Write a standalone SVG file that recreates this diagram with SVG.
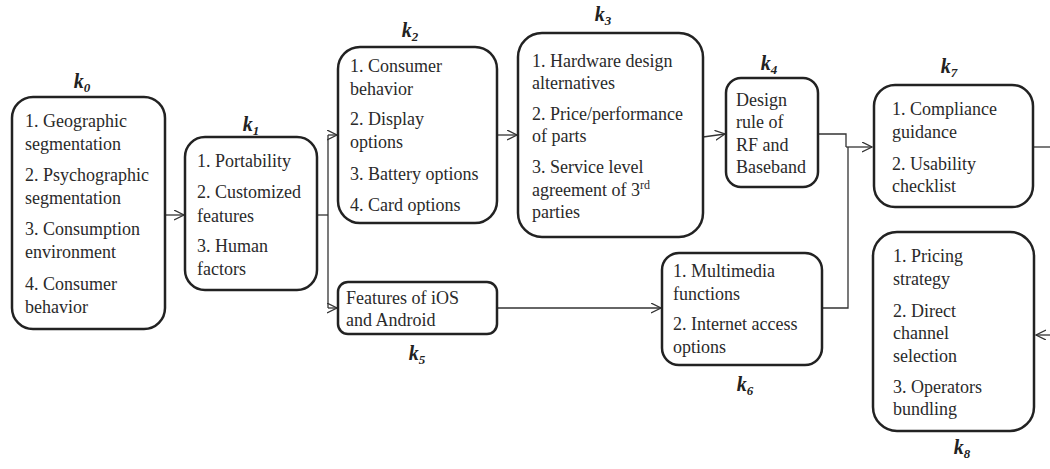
<svg xmlns="http://www.w3.org/2000/svg" width="1050" height="469" viewBox="0 0 1050 469" font-family="Liberation Serif, DejaVu Serif, serif">
<style>
.box{fill:#fff;stroke:#222;stroke-width:2.5}
.t{font-family:'Liberation Serif','DejaVu Serif',serif;font-size:18px;fill:#2a2a2a}
.k{font-family:'Liberation Serif','DejaVu Serif',serif;font-size:20px;font-weight:bold;font-style:italic;fill:#222;text-anchor:middle}
.sub{font-size:13px}
.c{fill:none;stroke:#333;stroke-width:1.3}
</style>
<defs>
<marker id="arr" markerWidth="12" markerHeight="12" refX="10" refY="5" orient="auto" markerUnits="userSpaceOnUse">
<path d="M0,0 L10,5 L0,10" fill="none" stroke="#333" stroke-width="1.3"/>
</marker>
</defs>
<rect width="1050" height="469" fill="#fff"/>
<g id="connectors">
<path class="c" d="M165,215 H184" marker-end="url(#arr)"/>
<path class="c" d="M317,215 H328"/>
<path class="c" d="M328,135 V308"/>
<path class="c" d="M328,135 H337" marker-end="url(#arr)"/>
<path class="c" d="M328,308 H337" marker-end="url(#arr)"/>
<path class="c" d="M497,135 H517" marker-end="url(#arr)"/>
<path class="c" d="M703,137 L725,134" marker-end="url(#arr)"/>
<path class="c" d="M497,308 H661" marker-end="url(#arr)"/>
<path class="c" d="M818,134 H846 V147"/>
<path class="c" d="M822,308 H848 V147"/>
<path class="c" d="M846,147 H872" stroke-width="2.2" marker-end="url(#arr)"/>
<path class="c" d="M1033,147 H1050"/>
<path class="c" d="M1050,335 H1036" marker-end="url(#arr)"/>
</g>
<g id="k0">
<rect class="box" x="12" y="97" width="153" height="232" rx="21"/>
<text class="k" x="82" y="88">k<tspan class="sub" dy="4">0</tspan></text>
<text class="t" x="25" y="127">1. Geographic</text>
<text class="t" x="25" y="150">segmentation</text>
<text class="t" x="25" y="181">2. Psychographic</text>
<text class="t" x="25" y="204">segmentation</text>
<text class="t" x="25" y="235">3. Consumption</text>
<text class="t" x="25" y="258">environment</text>
<text class="t" x="25" y="290">4. Consumer</text>
<text class="t" x="25" y="313">behavior</text>
</g>
<g id="k1">
<rect class="box" x="185" y="137" width="132" height="153" rx="20"/>
<text class="k" x="251" y="131">k<tspan class="sub" dy="4">1</tspan></text>
<text class="t" x="197" y="167">1. Portability</text>
<text class="t" x="197" y="198">2. Customized</text>
<text class="t" x="197" y="222">features</text>
<text class="t" x="197" y="252">3. Human</text>
<text class="t" x="197" y="275">factors</text>
</g>
<g id="k2">
<rect class="box" x="338" y="47" width="159" height="176" rx="22"/>
<text class="k" x="410" y="37">k<tspan class="sub" dy="4">2</tspan></text>
<text class="t" x="350" y="72">1. Consumer</text>
<text class="t" x="350" y="95">behavior</text>
<text class="t" x="350" y="125">2. Display</text>
<text class="t" x="350" y="148">options</text>
<text class="t" x="350" y="180">3. Battery options</text>
<text class="t" x="350" y="211">4. Card options</text>
</g>
<g id="k3">
<rect class="box" x="518" y="33" width="185" height="204" rx="24"/>
<text class="k" x="603" y="21">k<tspan class="sub" dy="4">3</tspan></text>
<text class="t" x="532" y="67">1. Hardware design</text>
<text class="t" x="532" y="89">alternatives</text>
<text class="t" x="532" y="120">2. Price/performance</text>
<text class="t" x="532" y="142">of parts</text>
<text class="t" x="532" y="173">3. Service level</text>
<text class="t" x="532" y="196">agreement of 3<tspan font-size="12" dy="-7">rd</tspan></text>
<text class="t" x="532" y="218">parties</text>
</g>
<g id="k4">
<rect class="box" x="726" y="78" width="92" height="109" rx="15"/>
<text class="k" x="769" y="70">k<tspan class="sub" dy="4">4</tspan></text>
<text class="t" x="736" y="106">Design</text>
<text class="t" x="736" y="128">rule of</text>
<text class="t" x="736" y="151">RF and</text>
<text class="t" x="736" y="173">Baseband</text>
</g>
<g id="k5">
<rect class="box" x="338" y="282" width="159" height="52" rx="10"/>
<text class="k" x="417" y="360">k<tspan class="sub" dy="4">5</tspan></text>
<text class="t" x="346" y="304">Features of iOS</text>
<text class="t" x="346" y="326">and Android</text>
</g>
<g id="k6">
<rect class="box" x="662" y="253" width="160" height="112" rx="17"/>
<text class="k" x="745" y="391">k<tspan class="sub" dy="4">6</tspan></text>
<text class="t" x="673" y="277">1. Multimedia</text>
<text class="t" x="673" y="300">functions</text>
<text class="t" x="673" y="330">2. Internet access</text>
<text class="t" x="673" y="353">options</text>
</g>
<g id="k7">
<rect class="box" x="874" y="85" width="159" height="122" rx="21"/>
<text class="k" x="949" y="73">k<tspan class="sub" dy="4">7</tspan></text>
<text class="t" x="892" y="115">1. Compliance</text>
<text class="t" x="892" y="138">guidance</text>
<text class="t" x="892" y="170">2. Usability</text>
<text class="t" x="892" y="192">checklist</text>
</g>
<g id="k8">
<rect class="box" x="873" y="232" width="161" height="199" rx="24"/>
<text class="k" x="962" y="454">k<tspan class="sub" dy="4">8</tspan></text>
<text class="t" x="893" y="262">1. Pricing</text>
<text class="t" x="893" y="285">strategy</text>
<text class="t" x="893" y="317">2. Direct</text>
<text class="t" x="893" y="339">channel</text>
<text class="t" x="893" y="362">selection</text>
<text class="t" x="893" y="393">3. Operators</text>
<text class="t" x="893" y="415">bundling</text>
</g>
</svg>
